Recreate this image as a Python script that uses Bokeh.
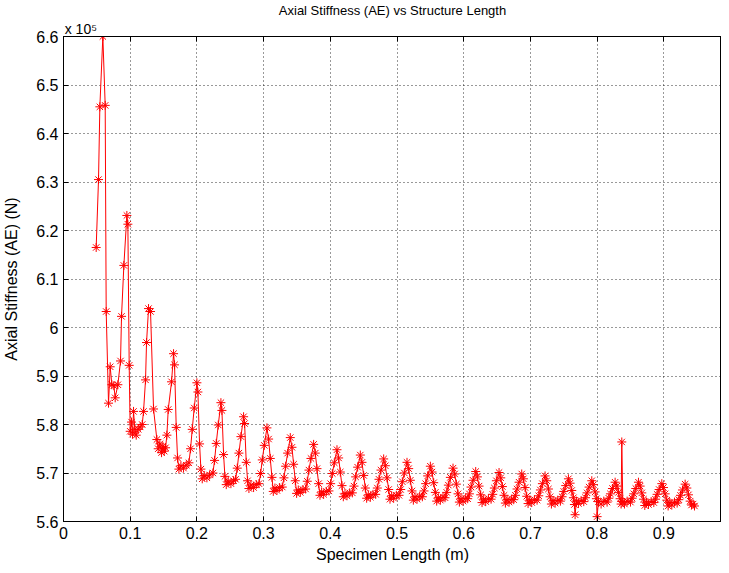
from bokeh.plotting import figure
from bokeh.models import Range1d, FixedTicker, LinearAxis
from bokeh.embed import file_html
from bokeh.resources import INLINE

# Specimen length (m)
length_m = [
    0.049, 0.0525, 0.0545, 0.059, 0.0625, 0.064, 0.0675, 0.070, 0.0725, 0.0755, 0.0775, 0.0815, 0.0855,
    0.087, 0.0905, 0.095, 0.0965, 0.0985, 0.100, 0.102, 0.1035, 0.105, 0.107, 0.109, 0.112,
    0.115, 0.118, 0.120, 0.123, 0.1245, 0.1275, 0.1305, 0.135, 0.140, 0.142, 0.1445, 0.147, 0.149, 0.151,
    0.153, 0.155, 0.157, 0.162, 0.165, 0.1665, 0.169, 0.171, 0.173, 0.176, 0.180, 0.184,
    0.188, 0.1905, 0.193, 0.196, 0.200, 0.2015, 0.204, 0.206, 0.208, 0.211, 0.215, 0.219,
    0.224, 0.2265, 0.229, 0.232, 0.236, 0.2375, 0.240, 0.242, 0.244, 0.247, 0.251, 0.255,
    0.258, 0.2605, 0.263, 0.266, 0.270, 0.2715, 0.274, 0.276, 0.278, 0.281, 0.285, 0.289,
    0.293, 0.2955, 0.298, 0.301, 0.305, 0.3075, 0.310, 0.3125, 0.3145, 0.317, 0.320, 0.324,
    0.328, 0.3305, 0.333, 0.336, 0.340, 0.3425, 0.345, 0.3475, 0.3495, 0.352, 0.355, 0.359,
    0.363, 0.3655, 0.368, 0.371, 0.375, 0.3775, 0.380, 0.3825, 0.3845, 0.387, 0.390, 0.394,
    0.398, 0.4005, 0.403, 0.406, 0.410, 0.4125, 0.415, 0.4175, 0.4195, 0.422, 0.425, 0.429,
    0.433, 0.4355, 0.438, 0.441, 0.445, 0.4475, 0.450, 0.4525, 0.4545, 0.457, 0.460, 0.464,
    0.468, 0.4705, 0.473, 0.476, 0.480, 0.4825, 0.485, 0.4875, 0.4895, 0.492, 0.495, 0.499,
    0.503, 0.5055, 0.508, 0.511, 0.515, 0.5175, 0.520, 0.5225, 0.5245, 0.527, 0.530, 0.534,
    0.538, 0.5405, 0.543, 0.546, 0.550, 0.5525, 0.555, 0.5575, 0.5595, 0.562, 0.565, 0.569,
    0.572, 0.5745, 0.577, 0.580, 0.584, 0.5865, 0.589, 0.5915, 0.5935, 0.596, 0.599, 0.603,
    0.606, 0.6085, 0.611, 0.614, 0.618, 0.6205, 0.623, 0.6255, 0.6275, 0.630, 0.633, 0.637,
    0.641, 0.6435, 0.646, 0.649, 0.653, 0.6555, 0.658, 0.6605, 0.6625, 0.665, 0.668, 0.672,
    0.675, 0.6775, 0.680, 0.683, 0.687, 0.6895, 0.692, 0.6945, 0.6965, 0.699, 0.702, 0.706,
    0.710, 0.7125, 0.715, 0.718, 0.722, 0.7245, 0.727, 0.7295, 0.7315, 0.734, 0.737, 0.741,
    0.745, 0.7475, 0.750, 0.753, 0.757, 0.7595, 0.762, 0.7645, 0.766, 0.767, 0.769, 0.772, 0.776,
    0.780, 0.7825, 0.785, 0.788, 0.792, 0.7945, 0.797, 0.799, 0.800, 0.802, 0.806, 0.810,
    0.815, 0.8175, 0.820, 0.823, 0.827, 0.8295, 0.832, 0.8345, 0.836, 0.837, 0.8385, 0.841, 0.845,
    0.850, 0.8525, 0.855, 0.858, 0.862, 0.8645, 0.867, 0.8695, 0.8715, 0.874, 0.877, 0.881,
    0.885, 0.8875, 0.890, 0.893, 0.897, 0.8995, 0.902, 0.9045, 0.9065, 0.909, 0.912, 0.916,
    0.920, 0.9225, 0.925, 0.928, 0.932, 0.9345, 0.937, 0.9395, 0.9415, 0.944, 0.946,
]

# Axial stiffness AE, in units of 10^5 N
stiffness_e5 = [
    6.165, 6.305, 6.455, 6.600, 6.458, 6.033, 5.844, 5.919, 5.882, 5.880, 5.855, 5.882, 5.931,
    6.023, 6.128, 6.231, 6.213, 5.922, 5.786, 5.805, 5.780, 5.827, 5.790, 5.778, 5.790,
    5.795, 5.800, 5.827, 5.892, 5.969, 6.039, 6.033, 5.832, 5.769, 5.750, 5.760, 5.742, 5.755, 5.745,
    5.752, 5.778, 5.831, 5.888, 5.946, 5.923, 5.794, 5.731, 5.708, 5.715, 5.710, 5.716,
    5.721, 5.750, 5.790, 5.834, 5.886, 5.867, 5.760, 5.708, 5.688, 5.695, 5.690, 5.696,
    5.700, 5.726, 5.761, 5.799, 5.845, 5.829, 5.738, 5.693, 5.676, 5.683, 5.678, 5.684,
    5.687, 5.710, 5.741, 5.775, 5.816, 5.802, 5.722, 5.684, 5.668, 5.675, 5.670, 5.676,
    5.678, 5.699, 5.727, 5.757, 5.793, 5.770, 5.730, 5.691, 5.662, 5.669, 5.664, 5.670,
    5.671, 5.690, 5.714, 5.741, 5.773, 5.753, 5.718, 5.684, 5.658, 5.665, 5.660, 5.666,
    5.667, 5.683, 5.706, 5.730, 5.759, 5.741, 5.709, 5.678, 5.654, 5.661, 5.656, 5.662,
    5.663, 5.678, 5.699, 5.721, 5.748, 5.731, 5.702, 5.674, 5.651, 5.658, 5.653, 5.659,
    5.659, 5.673, 5.692, 5.712, 5.737, 5.722, 5.695, 5.669, 5.648, 5.655, 5.650, 5.656,
    5.656, 5.669, 5.687, 5.706, 5.729, 5.715, 5.690, 5.666, 5.646, 5.653, 5.648, 5.654,
    5.654, 5.666, 5.682, 5.700, 5.722, 5.709, 5.685, 5.663, 5.644, 5.651, 5.646, 5.652,
    5.651, 5.663, 5.678, 5.694, 5.714, 5.702, 5.680, 5.660, 5.642, 5.649, 5.644, 5.650,
    5.649, 5.660, 5.675, 5.691, 5.710, 5.698, 5.677, 5.657, 5.640, 5.647, 5.642, 5.648,
    5.647, 5.657, 5.671, 5.685, 5.703, 5.692, 5.673, 5.655, 5.639, 5.646, 5.641, 5.647,
    5.646, 5.656, 5.669, 5.684, 5.701, 5.690, 5.672, 5.654, 5.638, 5.645, 5.640, 5.646,
    5.645, 5.654, 5.667, 5.681, 5.698, 5.688, 5.670, 5.652, 5.637, 5.644, 5.639, 5.645,
    5.644, 5.653, 5.665, 5.678, 5.694, 5.684, 5.667, 5.651, 5.636, 5.643, 5.638, 5.644,
    5.642, 5.651, 5.662, 5.674, 5.688, 5.679, 5.664, 5.649, 5.635, 5.614, 5.642, 5.637, 5.643,
    5.641, 5.649, 5.659, 5.671, 5.684, 5.676, 5.661, 5.647, 5.610, 5.641, 5.636, 5.642,
    5.640, 5.648, 5.657, 5.668, 5.681, 5.673, 5.660, 5.647, 5.636, 5.764, 5.641, 5.636, 5.642,
    5.640, 5.648, 5.657, 5.668, 5.681, 5.673, 5.659, 5.646, 5.633, 5.640, 5.635, 5.641,
    5.639, 5.646, 5.656, 5.666, 5.678, 5.670, 5.657, 5.644, 5.632, 5.639, 5.634, 5.640,
    5.638, 5.645, 5.654, 5.665, 5.677, 5.669, 5.655, 5.642, 5.634, 5.636, 5.632,
]

x_ticks = [0, 0.1, 0.2, 0.3, 0.4, 0.5, 0.6, 0.7, 0.8, 0.9]
x_tick_labels = ["0", "0.1", "0.2", "0.3", "0.4", "0.5", "0.6", "0.7", "0.8", "0.9"]
y_ticks = [5.6, 5.7, 5.8, 5.9, 6.0, 6.1, 6.2, 6.3, 6.4, 6.5, 6.6]
y_tick_labels = ["5.6", "5.7", "5.8", "5.9", "6", "6.1", "6.2", "6.3", "6.4", "6.5", "6.6"]

title_text = "Axial Stiffness (AE) vs Structure Length"
exponent_text = "x 10\u2075"

FONT = "Liberation Sans"
FS = "16px"
EXPONENT_ANCHOR = 0.026   # data-x where the exponent note is centred

p = figure(width=721, height=565, output_backend="svg", toolbar_location=None,
           x_range=Range1d(0, 0.9865), y_range=Range1d(5.6, 6.6),
           min_border_left=63, min_border_right=0, min_border_top=0, min_border_bottom=0,
           title=title_text)
p.background_fill_color = "white"
p.border_fill_color = "white"
p.outline_line_color = "black"
p.outline_line_alpha = 1.0

p.title.align = "center"
p.title.text_font = FONT
p.title.text_font_size = "13px"
p.title.text_font_style = "normal"
p.title.text_color = "black"
p.title.text_line_height = 1.0
p.title.offset = 0
p.title.standoff = 0

for ax, ticks, labels in ((p.xaxis[0], x_ticks, x_tick_labels), (p.yaxis[0], y_ticks, y_tick_labels)):
    ax.ticker = FixedTicker(ticks=ticks)
    ax.major_label_overrides = dict(zip(ticks, labels))
    ax.major_tick_in = 5
    ax.major_tick_out = 0
    ax.minor_tick_in = 0
    ax.minor_tick_out = 0
    ax.axis_line_color = "black"
    ax.major_tick_line_color = "black"
    ax.major_label_text_font = FONT
    ax.major_label_text_font_size = FS
    ax.major_label_text_color = "black"
    ax.axis_label_text_font = FONT
    ax.axis_label_text_font_size = FS
    ax.axis_label_text_font_style = "normal"
    ax.axis_label_text_color = "black"

p.xaxis.axis_label = "Specimen Length (m)"
p.yaxis.axis_label = "Axial Stiffness (AE) (N)"
p.xaxis.major_label_standoff = 5
p.xaxis.axis_label_standoff = 4
p.yaxis.major_label_standoff = 5
p.yaxis.axis_label_standoff = 13

# top edge: inward tick marks only (box style); its labels are not drawn
top_ticks = LinearAxis(ticker=FixedTicker(ticks=x_ticks), major_label_text_font_size="0px",
                       major_label_text_color=None, major_tick_in=5, major_tick_out=0,
                       minor_tick_in=0, minor_tick_out=0, axis_line_color="black",
                       major_label_standoff=0)
p.add_layout(top_ticks, "above")

# exponent note "x 10^5" just above the top-left corner
exponent = LinearAxis(ticker=FixedTicker(ticks=[EXPONENT_ANCHOR]),
                      major_label_overrides={EXPONENT_ANCHOR: exponent_text},
                      major_tick_in=0, major_tick_out=0, minor_tick_in=0, minor_tick_out=0,
                      axis_line_color=None, major_tick_line_color=None, minor_tick_line_color=None,
                      major_label_standoff=0, major_label_text_font=FONT,
                      major_label_text_font_size="14px", major_label_text_line_height=1.0,
                      major_label_text_color="black")
p.add_layout(exponent, "above")

p.xgrid.ticker = FixedTicker(ticks=x_ticks)
p.ygrid.ticker = FixedTicker(ticks=y_ticks)
p.grid.grid_line_color = "black"
p.grid.grid_line_alpha = 0.8
p.grid.grid_line_dash = "1 3"
p.grid.grid_line_width = 1

p.line(length_m, stiffness_e5, line_color="#ff0000", line_width=1)
p.scatter(length_m, stiffness_e5, marker="asterisk", size=9, line_color="#ff0000", line_width=1)

open("out.html", "w").write(file_html(p, INLINE))
